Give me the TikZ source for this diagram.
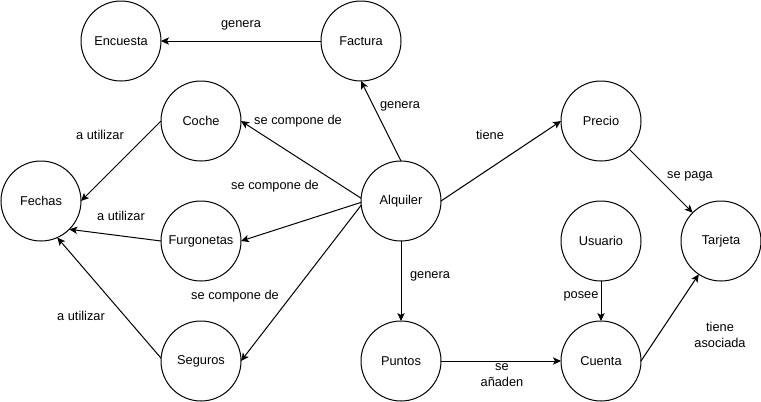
\documentclass[tikz,border=0pt]{standalone}
\usepackage{fontspec}
\setmainfont{Liberation Sans}
\usetikzlibrary{arrows.meta}
\usepackage{tkz-graph}

\begin{document}
\begin{tikzpicture}[x=0.75pt,y=-0.75pt]
	\useasboundingbox (0,0) rectangle (761,401);
	\tikzset{VertexStyle/.style =
		{draw,
			shape = circle,
			color = black,
			fill = white,
			inner sep = 0pt,
			minimum size = 60pt,
			line width = 0.75pt,
			font = \fontsize{9.6}{11.5}\selectfont}}
	\tikzset{LabelText/.style = {font = \fontsize{9.6}{11.5}\selectfont,
			align = center, inner sep = 1pt}}
	%\GraphInit[vstyle=Simple]
	\Vertex[x=121,y=41]{Encuesta}
	\Vertex[x=361,y=41]{Factura}
	\Vertex[x=201,y=121]{Coche}
	\Vertex[x=601,y=121]{Precio}
	\Vertex[x=41,y=201]{Fechas}
	\Vertex[x=401,y=201]{Alquiler}
	\Vertex[x=201,y=241]{Furgonetas}
	\Vertex[x=601,y=241]{Usuario}
	\Vertex[x=721,y=241]{Tarjeta}
	\Vertex[x=201,y=361]{Seguros}
	\Vertex[x=401,y=361]{Puntos}
	\Vertex[x=601,y=361]{Cuenta}
	\tikzset{EdgeStyle/.style={line width=0.75pt,
			-{Stealth[length=6pt,width=5.5pt,inset=1.5pt]}}}
	\draw[EdgeStyle] (Factura.west) -- (Encuesta.east);
	\draw[EdgeStyle] (Alquiler.north) -- (Factura.south);
	\draw[EdgeStyle] (Alquiler.176) -- (Coche.east);
	\draw[EdgeStyle] (Alquiler.182) -- (Furgonetas.east);
	\draw[EdgeStyle] (Alquiler.186) -- (Seguros.east);
	\draw[EdgeStyle] (Alquiler.east) -- (Precio.west);
	\draw[EdgeStyle] (Alquiler.south) -- (Puntos.north);
	\draw[EdgeStyle] (Coche.west) -- (Fechas.east);
	\draw[EdgeStyle] (Furgonetas.west) -- (Fechas.-45);
	\draw[EdgeStyle] (Seguros.176) -- (Fechas.-66);
	\draw[EdgeStyle] (Precio) -- (Tarjeta);
	\draw[EdgeStyle] (Usuario.south) -- (Cuenta.north);
	\draw[EdgeStyle] (Puntos.east) -- (Cuenta.west);
	\draw[EdgeStyle] (Cuenta.east) -- (Tarjeta);
	% textos de las relaciones
	\node[LabelText] (tGenEnc) at (241,25) {genera};
	\node[LabelText] (tGenFac) at (400,106) {genera};
	\node[LabelText] (tComCoc) at (298,121) {se compone de};
	\node[LabelText] (tComFur) at (275,186) {se compone de};
	\node[LabelText] (tComSeg) at (235,296) {se compone de};
	\node[LabelText] (tTiene) at (490,135) {tiene};
	\node[LabelText] (tGenPun) at (430,276) {genera};
	\node[LabelText] (tUtiCoc) at (100,135) {a utilizar};
	\node[LabelText] (tUtiFur) at (121,216) {a utilizar};
	\node[LabelText] (tUtiSeg) at (81,316) {a utilizar};
	\node[LabelText] (tPaga) at (690,176) {se paga};
	\node[LabelText] (tPosee) at (581,296) {posee};
	\node[LabelText] (tAnaden) at (502,375) {se\\añaden};
	\node[LabelText] (tAsoc) at (720,335) {tiene\\asociada};
\end{tikzpicture}
\end{document}
